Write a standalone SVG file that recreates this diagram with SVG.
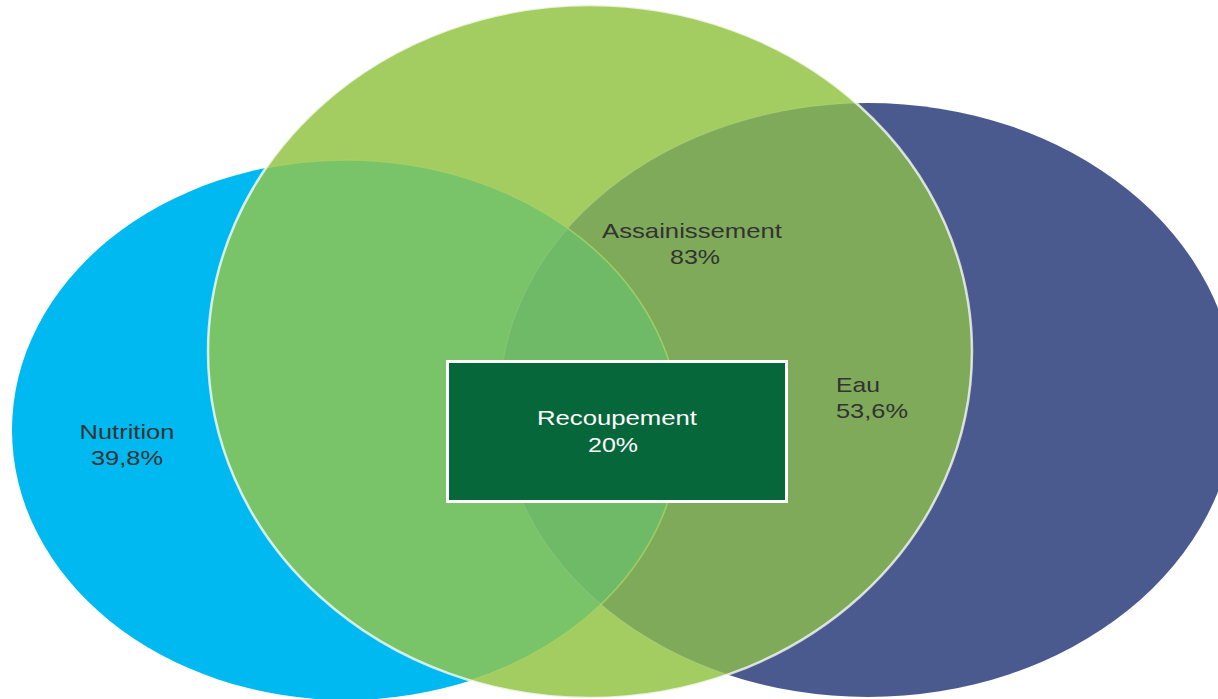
<svg xmlns="http://www.w3.org/2000/svg" width="1218" height="699" viewBox="0 0 1218 699">
<style>
.lbl{font-family:"Liberation Sans",Arial,Helvetica,sans-serif;font-size:21px;fill:#333333}
.lblw{font-family:"Liberation Sans",Arial,Helvetica,sans-serif;font-size:21px;fill:#ffffff}
</style>
<defs>
<clipPath id="clipG"><ellipse cx="590" cy="351.5" rx="382" ry="346.5"/></clipPath>
<clipPath id="clipB"><ellipse cx="868" cy="400" rx="368" ry="297"/></clipPath>
</defs>
<rect x="0" y="0" width="1218" height="699" fill="#ffffff"/>
<g id="node-nutrition">
<ellipse cx="346" cy="430" rx="334" ry="270" fill="#00B9F0"/>
</g>
<g id="node-eau">
<ellipse cx="868" cy="400" rx="368" ry="297" fill="#4A5A8E"/>
</g>
<g id="node-assainissement">
<ellipse cx="590" cy="351.5" rx="382" ry="346.5" fill="#A3CD60"/>
<g clip-path="url(#clipG)">
<ellipse cx="346" cy="430" rx="334" ry="270" fill="#79C369"/>
<ellipse cx="868" cy="400" rx="368" ry="297" fill="#7FAA5A"/>
<ellipse cx="346" cy="430" rx="334" ry="270" fill="#6FBA66" clip-path="url(#clipB)"/>
<ellipse cx="346" cy="430" rx="334" ry="270" fill="none" stroke="#A6D066" stroke-width="1.6" opacity="0.85"/>
<ellipse cx="868" cy="400" rx="368" ry="297" fill="none" stroke="#ffffff" stroke-width="1.2" opacity="0.12"/>
</g>
<ellipse cx="590" cy="351.5" rx="382" ry="346.5" fill="none" stroke="#ffffff" stroke-width="2.5" opacity="0.75"/>
</g>
<g id="connectors"></g>
<g id="labels">
<text class="lbl" x="127" y="439" text-anchor="middle" textLength="95" lengthAdjust="spacingAndGlyphs">Nutrition</text>
<text class="lbl" x="127" y="465" text-anchor="middle" textLength="72" lengthAdjust="spacingAndGlyphs">39,8%</text>
<text class="lbl" x="692" y="238" text-anchor="middle" textLength="180" lengthAdjust="spacingAndGlyphs">Assainissement</text>
<text class="lbl" x="695" y="264" text-anchor="middle" textLength="50" lengthAdjust="spacingAndGlyphs">83%</text>
<text class="lbl" x="836" y="392" textLength="44" lengthAdjust="spacingAndGlyphs">Eau</text>
<text class="lbl" x="836" y="418" textLength="72" lengthAdjust="spacingAndGlyphs">53,6%</text>
</g>
<g id="node-recoupement">
<rect x="447.5" y="361.5" width="339" height="140" fill="#06673A" stroke="#ffffff" stroke-width="3"/>
<text class="lblw" x="617" y="425" text-anchor="middle" textLength="160" lengthAdjust="spacingAndGlyphs">Recoupement</text>
<text class="lblw" x="613" y="452" text-anchor="middle" textLength="50" lengthAdjust="spacingAndGlyphs">20%</text>
</g>
</svg>
